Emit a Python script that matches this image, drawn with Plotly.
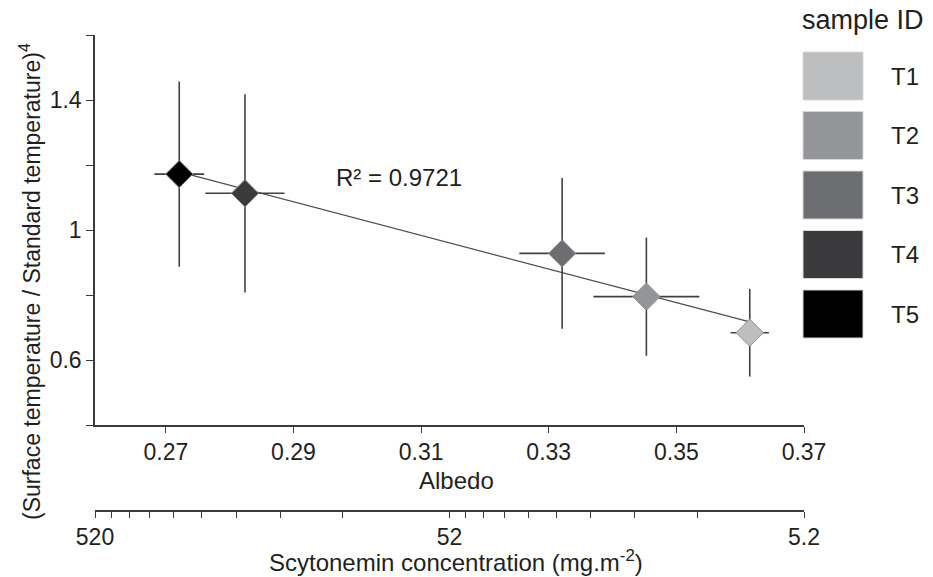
import numpy as np
import plotly.graph_objects as go

# Sample data
samples = ["T1", "T2", "T3", "T4", "T5"]
sample_colors = ["#bcbec0", "#939598", "#6d6e71", "#3a3a3c", "#000000"]
albedo = [0.3615, 0.3453, 0.3321, 0.2824, 0.2721]
albedo_err = [0.0030, 0.0083, 0.0067, 0.0062, 0.0039]
temp_ratio = [0.684, 0.795, 0.928, 1.113, 1.172]
temp_ratio_err = [0.135, 0.182, 0.232, 0.305, 0.285]
r2_label = "0.9721"

# Axis settings
albedo_ticks = [0.27, 0.29, 0.31, 0.33, 0.35, 0.37]
y_major = [0.6, 1.0, 1.4]
y_major_text = ["0.6", "1", "1.4"]
y_minor = [0.4, 0.8, 1.2, 1.6]
scyto_major = [520, 52, 5.2]
scyto_major_text = ["520", "52", "5.2"]
scyto_minor = [52 * k for k in range(9, 1, -1)] + [round(5.2 * k, 1) for k in range(9, 1, -1)]

TXT = "#231f20"
AXC = "#3a3a3a"
FONT = "Arial, Liberation Sans, sans-serif"

# Canvas geometry (pixels)
W, H = 933, 577
L, R, T, B = 95, 804, 35, 511
AX_BOTTOM = 425


def px_x(x):
    return (x - L) / (R - L)


def px_y(y):
    return (B - y) / (B - T)


# Linear regression through the sample means
xa = np.array(albedo)
ya = np.array(temp_ratio)
slope, intercept = np.polyfit(xa, ya, 1)
fit_x = np.array([xa.min(), xa.max()])
fit_y = slope * fit_x + intercept

fig = go.Figure()

fig.add_trace(go.Scatter(
    x=fit_x, y=fit_y, mode="lines",
    line=dict(color="#4d4d4f", width=1.2),
    showlegend=False, hoverinfo="skip",
))

fig.add_trace(go.Scatter(
    x=albedo, y=temp_ratio, mode="markers",
    marker=dict(symbol="diamond", size=21, color=sample_colors,
                line=dict(color="#8f8f91", width=1)),
    error_x=dict(type="data", array=albedo_err, color="#404042", thickness=1.6, width=0),
    error_y=dict(type="data", array=temp_ratio_err, color="#404042", thickness=1.6, width=0),
    text=samples, showlegend=False,
))

# Invisible trace that carries the secondary (log) axis
fig.add_trace(go.Scatter(
    x=[520, 5.2], y=[None, None], xaxis="x2", yaxis="y",
    mode="markers", showlegend=False, hoverinfo="skip",
))

dom0 = px_y(AX_BOTTOM)
axis_common = dict(
    showline=True, linecolor=AXC, linewidth=1.5, ticks="outside",
    tickwidth=1.3, tickcolor=AXC, showgrid=False, zeroline=False,
    tickfont=dict(size=23, color=TXT),
)

fig.update_layout(
    width=W, height=H,
    margin=dict(l=L, r=W - R, t=T, b=H - B, pad=0),
    paper_bgcolor="white", plot_bgcolor="white",
    font=dict(family=FONT, size=23, color=TXT),
    xaxis=dict(
        range=[0.2589, 0.37], tickvals=albedo_ticks,
        ticktext=[f"{v:.2f}" for v in albedo_ticks],
        ticklen=6, anchor="y", **axis_common,
    ),
    xaxis2=dict(
        type="log", range=[np.log10(520), np.log10(5.2)], overlaying="x", anchor="free",
        position=0, side="bottom", tickvals=scyto_major, ticktext=scyto_major_text,
        ticklen=6,
        minor=dict(tickmode="array", tickvals=scyto_minor, ticks="outside", ticklen=6,
                   tickwidth=1.3, tickcolor=AXC, showgrid=False),
        **axis_common,
    ),
    yaxis=dict(
        domain=[dom0, 1], range=[0.4, 1.6], tickvals=y_major, ticktext=y_major_text,
        ticklen=7,
        minor=dict(tickmode="array", tickvals=y_minor, ticks="outside", ticklen=7,
                   tickwidth=1.3, tickcolor=AXC, showgrid=False),
        **axis_common,
    ),
)


def label(x, y, text, size, xanchor="center", **kw):
    return dict(x=x, y=y, xref="paper", yref="paper", text=text, showarrow=False,
                xanchor=xanchor, yanchor="middle", font=dict(size=size, color=TXT), **kw)


annotations = [
    dict(x=0.3066, y=1.163, xref="x", yref="y", text=f"R² = {r2_label}",
         showarrow=False, xanchor="center", yanchor="middle",
         font=dict(size=24, color=TXT)),
    label(px_x(456), px_y(480), "Albedo", 24),
    label(px_x(456), px_y(561), "Scytonemin concentration (mg.m<sup>-2</sup>)", 24),
    label(px_x(30), px_y(282), "(Surface temperature / Standard temperature)<sup>4</sup>",
          23, textangle=-90),
    label(px_x(863), px_y(20), "sample ID", 27),
]

shapes = []
box_top, box_h, box_step = 52, 48, 59.5
for i, (name, col) in enumerate(zip(samples, sample_colors)):
    y0 = box_top + i * box_step
    shapes.append(dict(
        type="rect", xref="paper", yref="paper",
        x0=px_x(803), x1=px_x(863), y0=px_y(y0 + box_h), y1=px_y(y0),
        fillcolor=col, line=dict(color="#d8d8d8", width=1),
    ))
    annotations.append(label(px_x(889), px_y(y0 + box_h / 2), name, 24, xanchor="left"))

fig.update_layout(annotations=annotations, shapes=shapes)

fig.write_html("out.html")
